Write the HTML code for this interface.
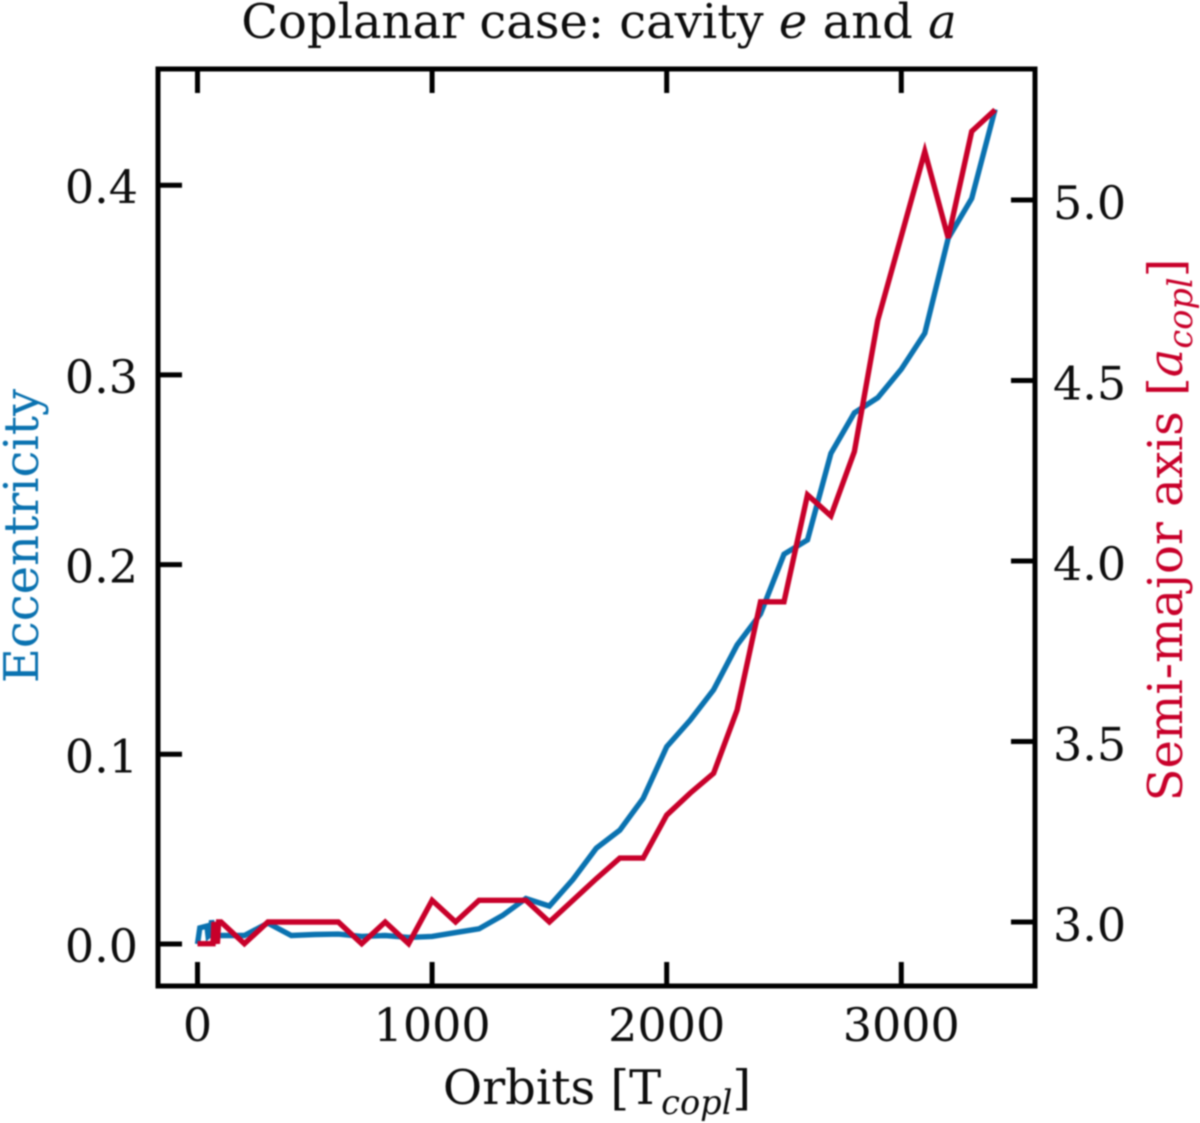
<!DOCTYPE html>
<html>
<head>
<meta charset="utf-8">
<title>Coplanar case: cavity e and a</title>
<style>
html,body{margin:0;padding:0;background:#fff;}
#chart{display:block;filter:blur(0.75px);}
text{font-family:"DejaVu Serif","Liberation Serif",serif;fill:#0d0d0d;}
</style>
</head>
<body>
<svg id="chart" width="1200" height="1123" viewBox="0 0 1200 1123" xmlns="http://www.w3.org/2000/svg">
  <rect width="1200" height="1123" fill="#fff"/>
  <g id="series"></g>
  <g id="ticks"></g>
  <rect x="158" y="69" width="877" height="917" fill="none" stroke="#000" stroke-width="5"/>
  <text x="599" y="38" font-size="48" text-anchor="middle">Coplanar case: cavity <tspan font-style="italic">e</tspan> and <tspan font-style="italic">a</tspan></text>
  <text x="597" y="1104" font-size="48" text-anchor="middle">Orbits [T<tspan font-style="italic" font-size="33.6" dy="10">copl</tspan><tspan dy="-10">]</tspan></text>
  <text transform="translate(38,536) rotate(-90)" font-size="48" text-anchor="middle" style="fill:#0a72b0">Eccentricity</text>
  <text transform="translate(1182,530) rotate(-90)" font-size="48" text-anchor="middle" style="fill:#c8002a">Semi-major axis [<tspan font-style="italic">a</tspan><tspan font-style="italic" font-size="33.6" dy="10">copl</tspan><tspan dy="-10">]</tspan></text>
</svg>
<script>
const xTicks = [0, 1000, 2000, 3000];
const eccTicks = [0.0, 0.1, 0.2, 0.3, 0.4];
const smaTicks = [3.0, 3.5, 4.0, 4.5, 5.0];

const eccOrbits = [0, 10, 40, 45, 55, 60, 70, 100, 200, 300, 400, 500, 600, 700, 800, 900, 1000, 1100, 1200, 1300, 1400, 1500, 1600, 1700, 1800, 1900, 2000, 2100, 2200, 2300, 2400, 2500, 2600, 2700, 2800, 2900, 3000, 3100, 3200, 3300, 3400];
const eccValues = [0.0, 0.0085, 0.0095, 0.004, 0.005, 0.0125, 0.004, 0.0045, 0.0045, 0.011, 0.0045, 0.005, 0.0052, 0.004, 0.0045, 0.0035, 0.004, 0.006, 0.008, 0.015, 0.024, 0.02, 0.034, 0.0505, 0.06, 0.0768, 0.104, 0.118, 0.134, 0.1576, 0.174, 0.2055, 0.213, 0.2586, 0.28, 0.288, 0.303, 0.322, 0.372, 0.393, 0.44];

const smaOrbits = [0, 66, 70, 85, 90, 100, 200, 300, 400, 500, 600, 700, 800, 900, 1000, 1100, 1200, 1300, 1400, 1500, 1600, 1700, 1800, 1900, 2000, 2100, 2200, 2300, 2400, 2500, 2600, 2700, 2800, 2900, 3000, 3100, 3200, 3300, 3400];
const smaValues = [2.94, 2.94, 3.0, 2.94, 3.0, 3.0, 2.94, 3.0, 3.0, 3.0, 3.0, 2.94, 3.0, 2.94, 3.06, 3.0, 3.06, 3.06, 3.06, 3.0, 3.06, 3.12, 3.177, 3.177, 3.296, 3.357, 3.412, 3.587, 3.887, 3.887, 4.183, 4.125, 4.303, 4.667, 4.9, 5.134, 4.895, 5.19, 5.25];

const SVGNS = 'http://www.w3.org/2000/svg';
const xScale = function (v) { return 197.5 + (v / 1000) * 234.6; };
const eccScale = function (v) { return 944 - (v / 0.1) * 189.7; };
const smaScale = function (v) { return 922 - (v - 3) * 361; };

const seriesLayer = document.getElementById('series');
const ticksLayer = document.getElementById('ticks');

function makeLine(x1, y1, x2, y2) {
  const l = document.createElementNS(SVGNS, 'line');
  l.setAttribute('x1', x1);
  l.setAttribute('y1', y1);
  l.setAttribute('x2', x2);
  l.setAttribute('y2', y2);
  l.setAttribute('stroke', '#000');
  l.setAttribute('stroke-width', '5');
  return l;
}
function makeLabel(x, y, str, anchor) {
  const t = document.createElementNS(SVGNS, 'text');
  t.setAttribute('x', x);
  t.setAttribute('y', y);
  t.setAttribute('font-size', '46');
  t.setAttribute('text-anchor', anchor);
  t.textContent = str;
  return t;
}

xTicks.forEach(function (v) {
  const x = xScale(v);
  const bottom = makeLine(x, 986, x, 962);
  
  
  ticksLayer.appendChild(bottom);
  const top = makeLine(x, 69, x, 93);
  
  
  ticksLayer.appendChild(top);
  const label = makeLabel(x, 1041, String(v), 'middle');
  
  
  ticksLayer.appendChild(label);
});

eccTicks.forEach(function (v) {
  const y = eccScale(v);
  const tick = makeLine(158, y, 182, y);
  
  
  ticksLayer.appendChild(tick);
  const label = makeLabel(138, y + 18, v.toFixed(1), 'end');
  
  
  ticksLayer.appendChild(label);
});

smaTicks.forEach(function (v) {
  const y = smaScale(v);
  const tick = makeLine(1035, y, 1011, y);
  
  
  ticksLayer.appendChild(tick);
  const label = makeLabel(1053, y + 19, v.toFixed(1), 'start');
  
  
  ticksLayer.appendChild(label);
});

function makeSeries(xs, ys, yScale, color) {
  const p = document.createElementNS(SVGNS, 'polyline');
  const pts = xs.map(function (x, i) { return xScale(x).toFixed(1) + ',' + yScale(ys[i]).toFixed(1); });
  p.setAttribute('points', pts.join(' '));
  p.setAttribute('fill', 'none');
  p.setAttribute('stroke', color);
  p.setAttribute('stroke-width', '5.4');
  p.setAttribute('stroke-linejoin', 'miter');
  return p;
}

const eccLine = makeSeries(eccOrbits, eccValues, eccScale, '#0a72b0');


seriesLayer.appendChild(eccLine);

const smaLine = makeSeries(smaOrbits, smaValues, smaScale, '#c8002a');


seriesLayer.appendChild(smaLine);
</script>
</body>
</html>
